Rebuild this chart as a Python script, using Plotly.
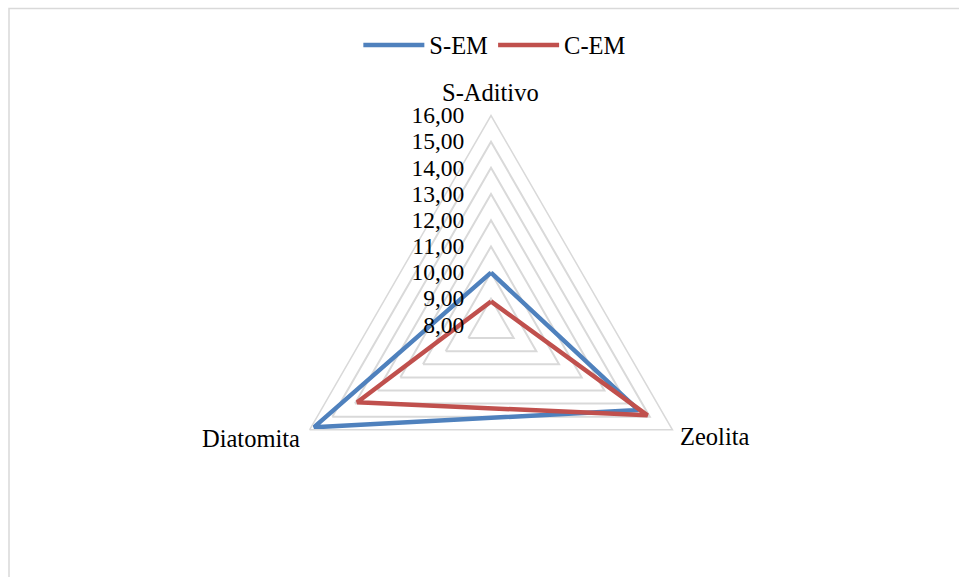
import plotly.graph_objects as go

# Radar chart: S-EM vs C-EM across three additive conditions
categories = ["S-Aditivo", "Zeolita", "Diatomita"]
s_em = [10.0, 14.5, 15.8]
c_em = [8.9, 14.9, 13.9]
series_names = ["S-EM", "C-EM"]
series_colors = ["#4F81BD", "#C0504D"]
radial_ticks = [8, 9, 10, 11, 12, 13, 14, 15, 16]

W, H = 959, 577
FONT = "Liberation Serif"

fig = go.Figure()
for name, vals, color in zip(series_names, [s_em, c_em], series_colors):
    fig.add_trace(go.Scatterpolar(
        r=vals + vals[:1],
        theta=categories + categories[:1],
        mode="lines",
        name=name,
        line=dict(color=color, width=4.5),
    ))

# polar area placed so the chart centre sits at (491, 325) px with a 209 px radius
cx, cy, R = 491, 325, 209.5

# category labels next to each vertex (pixel anchor, horizontal alignment)
label_spots = [((490, 93), "center"), ((678, 436), "left"), ((302, 438), "right")]
annotations = []
for cat, ((px, py), align) in zip(categories, label_spots):
    annotations.append(dict(
        text=cat, xref="paper", yref="paper",
        x=px / W, y=1 - py / H, xanchor=align, yanchor="middle",
        showarrow=False,
        font=dict(family=FONT, size=24.5, color="black"),
    ))

fig.update_layout(
    width=W, height=H,
    margin=dict(l=0, r=0, t=0, b=0),
    paper_bgcolor="white",
    separators=", ",
    font=dict(family=FONT, size=23.5, color="black"),
    polar=dict(
        domain=dict(x=[(cx - R) / W, (cx + R) / W],
                    y=[(H - cy - R) / H, (H - cy + R) / H]),
        gridshape="linear",
        bgcolor="white",
        radialaxis=dict(
            range=[8, 16],
            tickvals=radial_ticks,
            tickformat=".2f",
            angle=90,
            tickangle=90,
            side="counterclockwise",
            showline=False,
            gridcolor="#d9d9d9",
            gridwidth=1.5,
            ticks="outside",
            ticklen=18,
            tickcolor="rgba(0,0,0,0)",
            tickfont=dict(family=FONT, size=23.5, color="black"),
        ),
        angularaxis=dict(
            rotation=90,
            direction="clockwise",
            showgrid=False,
            showline=True,
            linecolor="#d9d9d9",
            linewidth=1.5,
            ticks="",
            showticklabels=False,
        ),
    ),
    annotations=annotations,
    showlegend=True,
    legend=dict(
        orientation="h",
        x=0.516, xanchor="center",
        y=1 - 45 / H, yanchor="middle",
        font=dict(family=FONT, size=24.5, color="black"),
        itemwidth=61,
        bgcolor="rgba(0,0,0,0)",
    ),
    shapes=[dict(
        type="rect", xref="paper", yref="paper",
        x0=9 / W, x1=1.05, y0=-0.05, y1=1 - 8.5 / H,
        line=dict(color="#d9d9d9", width=1.5),
        fillcolor="rgba(0,0,0,0)",
        layer="below",
    )],
)

fig.write_html("out.html")
